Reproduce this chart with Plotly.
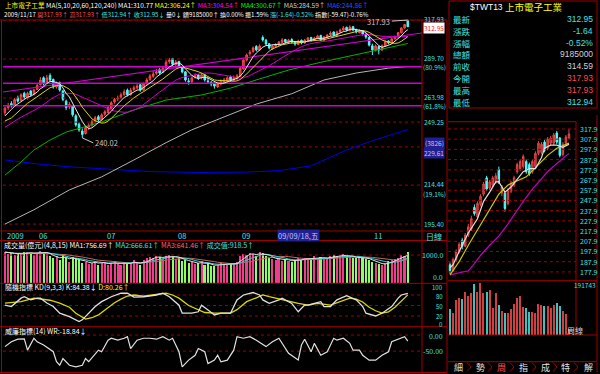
import math
import pandas as pd
import plotly.graph_objects as go

W, H = 600, 374


def fx(x):
    return x / W


def fy(y):
    return 1 - y / H


# ---------------- daily data (index 0 = mid May 2009 ... 125 = 2009/11/17) ----------------
D_OPEN = [255.0, 258.0, 260.5, 259.5, 264.0, 262.5, 267.0, 264.0, 268.5, 266.5,
          269.5, 272.5, 277.0, 273.5, 278.5, 276.0, 271.0, 274.0, 268.5, 262.0,
          258.5, 259.0, 253.0, 248.0, 244.0, 242.5, 246.5, 247.5, 250.0, 252.5,
          250.5, 254.0, 255.0, 257.5, 261.5, 263.5, 264.5, 266.0, 269.0, 266.0,
          269.5, 270.5, 272.5, 269.0, 273.5, 276.0, 278.0, 280.0, 282.5, 280.5,
          283.5, 288.0, 290.0, 286.0, 288.0, 284.5, 281.0, 275.0, 274.5, 277.5,
          279.0, 277.0, 279.0, 275.0, 274.0, 273.5, 271.0, 273.0, 274.0, 275.0,
          277.5, 275.5, 276.5, 278.0, 283.0, 289.0, 293.5, 295.0, 298.5, 296.0,
          305.0, 303.0, 300.5, 297.0, 298.5, 299.5, 301.5, 303.5, 301.5, 303.5,
          302.0, 300.0, 303.0, 301.0, 303.0, 305.0, 303.0, 304.5, 306.5, 303.0,
          305.0, 307.0, 309.0, 306.5, 309.0, 310.5, 312.5, 310.0, 313.0, 310.5,
          308.5, 310.0, 307.5, 305.0, 299.0, 296.0, 298.5, 296.0, 299.0, 302.5,
          301.0, 304.0, 305.5, 308.5, 312.0, 317.93]
D_HIGH = [258.5, 261.0, 262.0, 264.0, 265.5, 267.0, 268.0, 268.0, 269.0, 270.0,
          273.0, 277.5, 278.0, 279.0, 280.0, 276.5, 274.5, 274.5, 269.0, 263.0,
          261.5, 259.5, 254.0, 249.0, 245.5, 247.0, 248.5, 250.5, 253.0, 253.5,
          254.5, 256.5, 259.0, 262.0, 264.0, 265.5, 267.5, 269.5, 270.0, 270.5,
          272.0, 273.5, 273.0, 274.0, 277.0, 279.5, 281.5, 283.0, 283.5, 285.0,
          289.0, 290.5, 290.5, 289.0, 288.5, 285.0, 281.5, 277.0, 278.0, 280.0,
          279.5, 280.5, 279.5, 277.5, 275.0, 274.0, 274.5, 276.0, 277.0, 278.0,
          278.5, 278.5, 279.5, 284.5, 290.0, 293.5, 296.0, 298.5, 299.5, 300.0,
          306.5, 304.0, 301.0, 300.0, 301.0, 302.5, 304.5, 304.0, 304.0, 304.5,
          302.5, 303.5, 303.5, 304.0, 305.5, 305.5, 305.5, 307.0, 307.0, 306.0,
          307.5, 309.5, 309.5, 310.0, 311.5, 313.5, 313.0, 314.0, 313.5, 311.5,
          311.0, 310.5, 308.0, 305.5, 300.5, 300.0, 299.0, 300.0, 303.0, 303.0,
          305.0, 306.5, 309.0, 312.5, 315.0, 317.93]
D_LOW = [253.5, 256.5, 258.0, 259.0, 261.0, 262.0, 263.5, 263.0, 265.0, 265.5,
         269.0, 272.0, 272.0, 273.0, 274.5, 270.0, 270.0, 268.0, 262.0, 256.5,
         257.0, 252.5, 246.5, 243.5, 240.02, 242.0, 244.5, 246.5, 249.0, 249.5,
         250.0, 253.0, 254.5, 257.0, 260.5, 262.0, 263.5, 265.5, 265.0, 265.5,
         268.5, 269.5, 268.0, 268.5, 272.5, 275.0, 277.0, 279.0, 279.0, 280.0,
         283.0, 286.5, 285.0, 285.0, 284.0, 280.0, 274.5, 272.5, 273.5, 276.5,
         275.5, 276.0, 274.5, 273.0, 271.5, 270.0, 270.5, 272.0, 273.0, 274.0,
         274.5, 275.0, 275.5, 277.5, 282.5, 288.0, 292.0, 294.0, 295.0, 295.5,
         302.0, 299.5, 296.5, 296.0, 297.5, 299.0, 300.5, 300.5, 300.5, 300.5,
         299.0, 299.5, 300.0, 300.5, 302.5, 302.0, 302.5, 304.0, 302.5, 302.5,
         304.5, 306.0, 306.0, 306.0, 308.5, 310.0, 309.5, 309.5, 309.5, 308.0,
         308.0, 306.5, 304.0, 298.5, 292.5, 295.0, 293.0, 295.5, 298.5, 300.0,
         300.5, 303.5, 305.0, 308.0, 311.5, 312.94]
D_CLOSE = [257.7, 259.0, 259.7, 263.0, 262.0, 266.0, 264.5, 267.0, 266.0, 269.0,
           272.0, 275.6, 273.0, 277.0, 275.6, 271.5, 273.0, 269.0, 263.0, 258.0,
           260.0, 253.6, 247.6, 244.7, 242.0, 246.0, 247.0, 249.4, 251.8, 250.6,
           253.6, 255.4, 258.0, 261.0, 263.0, 264.0, 266.0, 268.0, 266.0, 269.0,
           270.5, 271.6, 269.0, 273.0, 275.6, 278.3, 279.6, 280.9, 280.2, 283.5,
           287.6, 289.0, 286.2, 287.6, 284.9, 280.9, 275.6, 274.5, 277.0, 278.3,
           277.0, 278.9, 275.6, 274.5, 273.0, 271.6, 273.0, 274.5, 275.6, 277.0,
           275.6, 277.0, 278.3, 283.5, 289.0, 292.5, 294.4, 297.5, 296.1, 298.9,
           303.2, 300.3, 297.5, 298.9, 299.6, 301.8, 303.2, 301.8, 303.2, 301.8,
           300.3, 302.5, 301.0, 303.2, 304.6, 303.2, 304.6, 306.1, 303.2, 305.3,
           306.8, 308.3, 306.8, 309.0, 310.5, 312.0, 310.5, 312.7, 310.5, 309.0,
           309.8, 307.6, 305.3, 299.6, 296.1, 298.9, 296.0, 299.0, 302.0, 301.0,
           304.0, 305.5, 308.5, 312.0, 314.59, 312.95]
# closes before the visible window (only feed the moving averages)
PRE_CLOSE = [232, 236, 240, 238, 243, 246, 244, 248, 250, 247,
             251, 249, 246, 243, 245, 248, 251, 253, 255]
D_VOL = [1100, 1050, 1080, 1000, 1030, 1060, 1090, 1120, 1050, 1010, 1080, 1150,
         1100, 1020, 950, 880, 960, 820,
         1000, 890, 760, 930, 880, 820, 700, 760, 690, 720, 800, 650, 730,
         740, 660, 710, 780, 700, 640, 760, 690, 720, 810, 700, 640,
         820, 880, 940, 900, 960, 920, 870, 980, 1000, 940, 850, 900,
         780, 830, 700, 740, 680, 720, 780, 650, 700, 620, 600, 660, 700, 690, 640, 720, 680, 750,
         980, 1050, 1000, 1080, 1020, 960, 1100, 1060, 950, 890,
         870, 820, 900, 780, 850, 800, 760, 820, 880, 830,
         900, 860, 820, 950, 880, 930, 860, 900, 950,
         1000, 960, 920, 1050, 980, 930, 880, 900, 960, 880, 850,
         820, 760, 700, 680, 650, 700, 780,
         820, 860, 900, 1000, 960, 1100]

MONTH_IDX = [0, 10, 31, 53, 73, 114]
MONTH_TXT = ["2009", "06", "07", "08", "09", "11"]

MA60_IDX = [0, 5, 9, 14, 19, 24, 30, 40, 45, 50, 61, 70, 79, 88, 98, 110, 118, 125]
MA60_VAL = [219.6, 226.6, 233.2, 238.8, 243.4, 245.9, 249.3, 256.5, 259.6, 262.7,
            265.9, 270.3, 276.3, 282.2, 287.5, 293.5, 297.5, 300.67]
MA120_IDX = [0, 9, 20, 30, 40, 50, 58, 68, 78, 89, 99, 109, 119, 125]
MA120_VAL = [195.4, 202.2, 212.0, 218.7, 227.7, 237.3, 244.7, 252.2, 260.2, 266.7,
             275.6, 280.2, 283.5, 284.59]
MA240_IDX = [0, 10, 20, 33, 45, 60, 75, 85, 95, 106, 115, 125]
MA240_VAL = [227.7, 225.6, 224.0, 222.5, 221.5, 221.0, 221.2, 222.0, 224.5, 233.2,
             239.0, 244.86]

FIB_LEVELS = [284.5, 273.5, 259.2]
TREND_IDX = [-0.6, 129.4]
TREND_VAL = [267.8, 308.3]
GRID_LEVELS = [317.93, 289.70, 263.98, 249.25, 234.9, 214.44, 195.40]

K_IDX = [0, 2, 5, 6, 8, 10, 11, 13, 15, 17, 20, 23, 24, 26, 28, 30, 33, 36, 38, 40,
         43, 47, 49, 51, 54, 55, 58, 60, 61, 63, 65, 67, 70, 72, 74, 77, 79, 80, 82, 85,
         86, 89, 91, 93, 94, 96, 98, 99, 101, 103, 105, 106, 109, 111, 112, 115, 117, 120,
         122, 123, 125]
K_VAL = [51, 47, 71, 75, 66, 71, 71, 57, 47, 28, 18, 4, 9, 28, 47, 61, 75, 85, 85, 74,
         75, 80, 85, 75, 51, 28, 28, 32, 51, 37, 23, 28, 28, 66, 80, 87, 80, 66, 56, 66,
         71, 56, 32, 51, 51, 56, 61, 47, 47, 66, 75, 78, 66, 47, 28, 20, 28, 47,
         71, 80, 84.38]
D_IDX = [0, 5, 9, 14, 17, 20, 22, 24, 25, 27, 29, 30, 32, 34, 36, 38, 40, 43, 47, 50,
         52, 54, 57, 60, 62, 65, 70, 72, 75, 78, 80, 82, 85, 88, 91, 94, 97, 101, 104, 107,
         109, 111, 113, 115, 117, 119, 121, 123, 125]
D_VAL = [57, 61, 71, 65, 57, 45, 28, 15, 11, 15, 23, 30, 43, 58, 68, 77, 80, 77, 82, 85,
         80, 71, 50, 37, 30, 28, 28, 38, 61, 72, 80, 75, 68, 61, 56, 51, 56, 51, 60, 71,
         68, 60, 45, 35, 28, 32, 45, 62, 80.26]
WR_IDX = [0, 2, 4, 6, 7, 9, 10, 12, 15, 16, 17, 18, 20, 22, 24, 25, 26, 28, 29, 30,
          32, 33, 35, 37, 38, 39, 41, 43, 45, 47, 49, 51, 52, 54, 55, 57, 59, 60, 62, 63,
          65, 66, 67, 69, 71, 72, 74, 76, 78, 81, 83, 85, 88, 91, 92, 93, 95, 96, 98, 100,
          102, 103, 105, 107, 108, 110, 111, 113, 115, 117, 119, 120, 123, 124, 125]
WR_VAL = [-36, -21, -13, -12, -47, -10, -21, -31, -52, -83, -94, -73, -94, -99, -94, -73, -83, -57, -47, -52,
          -16, -10, -16, -10, -5, -42, -16, -10, -10, -13, -5, -16, -10, -52, -99, -78, -63, -42, -52, -89,
          -78, -63, -83, -78, -47, -5, -10, -5, -16, -36, -21, -10, -57, -78, -31, -13, -52, -26, -63, -52,
          -10, -16, -10, -26, -47, -47, -63, -78, -78, -63, -52, -21, -10, -5, -18.84]

# ---------------- weekly data (40 weeks to 2009/11/17) ----------------
W_OPEN = [185, 179, 190, 198, 209, 203, 214, 220, 241, 232, 244, 254, 270, 260, 263, 266, 278, 255, 255, 245,
          257, 263, 276, 279, 281, 286, 283, 276, 281, 294, 295, 305, 299, 304, 304, 314, 309, 293, 304, 309]
W_HIGH = [187, 192, 200, 207, 211, 216, 225, 233, 244, 247, 254, 266, 272, 268, 272, 275, 281, 263, 257, 260,
          267, 272, 285, 288, 293, 288, 285, 288, 296, 306, 305, 307, 310, 311, 314, 316, 310, 305, 312, 317.93]
W_LOW = [176, 178, 188, 196, 200, 202, 212, 218, 233, 230, 242, 252, 257, 258, 261, 264, 264, 252, 237, 243,
         255, 261, 274, 277, 279, 274, 272, 274, 279, 292, 293, 295, 297, 302, 302, 303, 290, 291, 302, 308]
W_CLOSE = [179, 190, 198, 205, 203, 214, 222, 230, 235, 245, 252, 264, 259, 266, 270, 272, 266, 261, 240, 258,
           265, 270, 283, 286, 291, 276, 274, 286, 294, 304, 303, 297, 308, 309, 312, 305, 292, 303, 310, 312.95]
W_VOL = [92500, 78000, 126000, 132000, 128400, 155800, 140300, 152200, 182400, 153600,
         188100, 150000, 155800, 161900, 96000, 152200, 108000, 86300, 80200, 80200,
         93500, 111500, 132000, 141400, 101800, 98200, 83800, 83800, 80200, 111500,
         108000, 104300, 104300, 96000, 108000, 116200, 104300, 86300, 75500, 20500]
W_MA1_IDX = [0, 1, 3, 6, 9, 11, 13, 15, 16, 18, 20, 22, 24, 26, 28, 30, 31, 33, 35, 37, 39]
W_MA1_VAL = [182, 185, 198, 216, 230, 247, 256, 266, 266, 256, 261, 268, 276, 279, 279, 290, 299, 302, 302, 300, 303]
W_MA2_IDX = [0, 3, 6, 10, 13, 16, 19, 22, 25, 28, 32, 35, 39]
W_MA2_VAL = [175, 188, 204, 224, 240, 254, 263, 267, 271, 280, 292, 299, 304]
W_MA3_IDX = [0, 3, 6, 8, 10, 13, 16, 19, 21, 24, 27, 30, 32, 35, 38, 39]
W_MA3_VAL = [175, 177, 179, 186, 194, 204, 213, 225, 234, 247, 259, 269, 276, 284, 292, 294]
W_LEVELS = [317.9, 307.9, 297.9, 287.9, 277.9, 267.9, 257.9, 247.9, 237.9, 227.9, 217.9, 207.9, 197.9, 187.9, 177.9]

# ---------------- derived series ----------------
n = len(D_CLOSE)
idx = list(range(n))
cl = pd.Series(PRE_CLOSE + D_CLOSE)
p0 = len(PRE_CLOSE)
MA5 = cl.rolling(5).mean().iloc[p0:].tolist()
MA10 = cl.rolling(10).mean().iloc[p0:].tolist()
MA20 = cl.rolling(20, min_periods=1).mean().iloc[p0:].tolist()
vs = pd.Series(D_VOL)
VMA4 = vs.rolling(4, min_periods=1).mean().tolist()
VMA8 = vs.rolling(8, min_periods=1).mean().tolist()
VMA15 = vs.rolling(15, min_periods=1).mean().tolist()
vcol = ['#f03c8c' if c >= o else '#8cff64' for o, c in zip(D_OPEN, D_CLOSE)]
widx = list(range(len(W_CLOSE)))
wcol = ['#d04040' if c >= o else '#40c0c0' for o, c in zip(W_OPEN, W_CLOSE)]

RED = '#ff4a4a'
CYAN = '#40e0e0'
BORDER = '#a00000'
NARROW = 'Liberation Sans Narrow, Noto Sans CJK TC, sans-serif'
CJK = 'Noto Sans CJK TC, sans-serif'
SANS = 'Liberation Sans, Noto Sans CJK TC, sans-serif'

fig = go.Figure()


def line(x, y, color, xa, ya, width=1, dash=None):
    fig.add_trace(go.Scatter(x=x, y=y, mode='lines', xaxis=xa, yaxis=ya,
                             line=dict(color=color, width=width, dash=dash),
                             hoverinfo='skip', showlegend=False))


XR = [-0.6, 129.4]
# main chart grid + drawings
for lv in GRID_LEVELS:
    line(XR, [lv, lv], BORDER, 'x', 'y', 1, 'dot')
line(MA240_IDX, MA240_VAL, '#0000e6', 'x', 'y')
line(MA120_IDX, MA120_VAL, '#b4b4b4', 'x', 'y')
line(MA60_IDX, MA60_VAL, '#00b400', 'x', 'y')
for lv in FIB_LEVELS:
    line(XR, [lv, lv], '#d000d0', 'x', 'y', 1.5)
line(TREND_IDX, TREND_VAL, '#d000d0', 'x', 'y', 1.2)
line(idx, MA20, '#d000d0', 'x', 'y')
line(idx, MA10, '#d8d800', 'x', 'y')
line(idx, MA5, '#e8e8e8', 'x', 'y')
fig.add_trace(go.Candlestick(
    x=idx, open=D_OPEN, high=D_HIGH, low=D_LOW, close=D_CLOSE, xaxis='x', yaxis='y',
    increasing=dict(line=dict(color=RED, width=1), fillcolor='#b42828'),
    decreasing=dict(line=dict(color='#50f8f8', width=1), fillcolor='#50f8f8'),
    whiskerwidth=0, showlegend=False, hoverinfo='skip'))

# volume
line(XR, [1000, 1000], BORDER, 'x2', 'y2', 1, 'dot')
fig.add_trace(go.Bar(x=idx, y=D_VOL, marker=dict(color=vcol, line=dict(width=0)), width=0.62,
                     xaxis='x2', yaxis='y2', showlegend=False, hoverinfo='skip'))
line(idx, VMA15, '#c86464', 'x2', 'y2')
line(idx, VMA8, '#30d0d0', 'x2', 'y2')
line(idx, VMA4, '#e0e0e0', 'x2', 'y2')

# KD
for lv in [80, 50, 20]:
    line(XR, [lv, lv], BORDER, 'x3', 'y3', 1, 'dot')
line(D_IDX, D_VAL, '#d8d800', 'x3', 'y3', 1.3)
line(K_IDX, K_VAL, '#e0e0e0', 'x3', 'y3', 1.3)

# WR
for lv in [0, -50]:
    line(XR, [lv, lv], BORDER, 'x4', 'y4', 1, 'dot')
line(WR_IDX, WR_VAL, '#e0e0e0', 'x4', 'y4', 1.2)

# weekly
WXR = [-0.66, 41.3]
for lv in W_LEVELS:
    line(WXR, [lv, lv], BORDER, 'x5', 'y5', 1, 'dot')
line(W_MA3_IDX, W_MA3_VAL, '#c000c0', 'x5', 'y5', 1.2)
line(W_MA2_IDX, W_MA2_VAL, '#c8c800', 'x5', 'y5', 1.2)
line(W_MA1_IDX, W_MA1_VAL, '#e0e0e0', 'x5', 'y5', 1.2)
fig.add_trace(go.Candlestick(
    x=widx, open=W_OPEN, high=W_HIGH, low=W_LOW, close=W_CLOSE, xaxis='x5', yaxis='y5',
    increasing=dict(line=dict(color='#e04848', width=1), fillcolor='#a82828'),
    decreasing=dict(line=dict(color='#50f8f8', width=1), fillcolor='#50f8f8'),
    whiskerwidth=0, showlegend=False, hoverinfo='skip'))
fig.add_trace(go.Bar(x=widx, y=W_VOL, marker=dict(color=wcol, line=dict(width=0)), width=0.4,
                     xaxis='x6', yaxis='y6', showlegend=False, hoverinfo='skip'))


def xax(domain, rng, anchor):
    return dict(domain=domain, range=rng, anchor=anchor, type='linear', visible=False,
                showgrid=False, zeroline=False, fixedrange=True, rangeslider=dict(visible=False))


def yax(domain, rng, anchor, typ='linear'):
    return dict(domain=domain, range=rng, anchor=anchor, type=typ, visible=False,
                showgrid=False, zeroline=False, fixedrange=True)


MAINX = [fx(3), fx(422)]
WX = [fx(448), fx(576)]
fig.update_layout(
    width=W, height=H, margin=dict(l=0, r=0, t=0, b=0),
    paper_bgcolor='black', plot_bgcolor='black', showlegend=False, bargap=0,
    xaxis=xax(MAINX, XR, 'y'),
    yaxis=yax([fy(231), fy(20)], [math.log10(192.2), math.log10(318.0)], 'x', 'log'),
    xaxis2=xax(MAINX, XR, 'y2'),
    yaxis2=yax([fy(283.3), fy(249)], [0, 1212], 'x2'),
    xaxis3=xax(MAINX, XR, 'y3'),
    yaxis3=yax([fy(326), fy(284)], [-8.6, 111.4], 'x3'),
    xaxis4=xax(MAINX, XR, 'y4'),
    yaxis4=yax([fy(372), fy(327)], [-115, 25], 'x4'),
    xaxis5=xax(WX, WXR, 'y5'),
    yaxis5=yax([fy(280.7), fy(121.7)], [169.3, 325], 'x5'),
    xaxis6=xax(WX, WXR, 'y6'),
    yaxis6=yax([fy(335), fy(281)], [0, 194300], 'x6'),
)

shapes = []


def seg(x0, y0, x1, y1, color=BORDER, width=1):
    shapes.append(dict(type='line', xref='paper', yref='paper', x0=fx(x0), y0=fy(y0),
                       x1=fx(x1), y1=fy(y1), line=dict(color=color, width=width)))


# left borders
seg(0, 20, 447, 20)
seg(1.5, 20, 1.5, 372)
seg(422, 20, 422, 372)
seg(447, 20, 447, 372)
seg(0, 231, 447, 231)
seg(0, 240.5, 447, 240.5)
seg(0, 283.3, 447, 283.3)
seg(0, 326.7, 447, 326.7)
seg(0, 372.5, 447, 372.5)
# right panel borders
shapes.append(dict(type='rect', xref='paper', yref='paper', x0=fx(449), y0=fy(108), x1=fx(597), y1=fy(1),
                   line=dict(color=BORDER, width=1)))
seg(448, 121.7, 576, 121.7)
seg(576, 121.7, 576, 335)
seg(448, 280.7, 597, 280.7)
seg(448, 335, 597, 335)
seg(597, 115, 597, 372)
seg(448, 361.7, 597, 361.7)
# tab separators (small chevrons)
for xx in [469, 490, 512, 534, 555, 576]:
    shapes.append(dict(type='path', xref='paper', yref='paper',
                       path=f'M {fx(xx - 2)},{fy(362.5)} L {fx(xx + 2)},{fy(367)} L {fx(xx - 2)},{fy(371.5)}',
                       line=dict(color='#a00000', width=1)))
fig.update_layout(shapes=shapes)

ann = []


def txt(x, y, s, color, size=7, anchor='left', family=NARROW, bg=None):
    d = dict(x=fx(x), y=fy(y), xref='paper', yref='paper', text=s, showarrow=False,
             xanchor=anchor, yanchor='middle', font=dict(color=color, size=size, family=family))
    if bg:
        d['bgcolor'] = bg
        d['borderpad'] = 0
    ann.append(d)


def rich(parts):
    return ' '.join(f'<span style="color:{c}">{s}</span>' for s, c in parts)


# header rows (one flowing text per row)
txt(3, 5, rich([('上市電子工業', '#ffff00'), ('MA(5,10,20,60,120,240)', '#ffffff'),
                ('MA1:310.77', '#ffffff'), ('MA2:306.24↑', '#ffff00'), ('MA3:304.54↑', '#ff00ff'),
                ('MA4:300.67↑', '#00ff00'), ('MA5:284.59↑', '#d0d0d0'), ('MA6:244.86↑', '#3050ff')]),
    '#ffffff', 6.6)
txt(2, 14.5, rich([('2009/11/17', '#ffffff'), ('開317.93↑', RED), ('高317.93↑', RED),
                   ('低312.94↑', CYAN), ('收312.95↓', CYAN), ('量0↓', '#ffffff'),
                   ('額9185000↑', '#ffffff'), ('換0.00%', '#ffffff'), ('振1.59%', '#ffffff'),
                   ('漲(-1.64)-0.52%', CYAN), ('指數(-59.47)-0.76%', '#ffffff')]), '#ffffff', 6.1)

# main right labels
for yy, s in [(19.5, '317.93'), (58, '289.70'), (67, '(80.9%)'), (96.5, '263.98'), (106, '(61.8%)'),
              (122, '249.25'), (184, '214.44'), (194, '(19.1%)'), (224, '195.40')]:
    txt(434, yy, s, CYAN, 6.5, 'center')
txt(434, 28, '312.95', '#ff2020', 6.5, 'center', bg='#ffffff')
txt(434, 142.5, '(3826)', '#c0c0ff', 6.5, 'center', bg='#202090')
txt(434, 152.5, '229.61', '#c0c0ff', 6.5, 'center', bg='#202090')
txt(434, 236, '日線', CYAN, 8, 'center', CJK)

# x labels
for i_, s in zip(MONTH_IDX, MONTH_TXT):
    ann.append(dict(x=i_, y=fy(235.7), xref='x', yref='paper', text=s, showarrow=False,
                    xanchor='left', yanchor='middle', font=dict(color=CYAN, size=7.5, family=NARROW)))
txt(277, 235.7, '09/09/18,五', '#c0c0ff', 7.5, 'left', bg='#202090')

# low / high markers
ann.append(dict(x=24, y=math.log10(240.02), xref='x', yref='y', text='240.02', showarrow=True,
                arrowhead=0, arrowwidth=1, arrowcolor='#c8c8c8', ax=11, ay=5, xanchor='left',
                font=dict(color='#c8c8c8', size=7.5, family=NARROW)))
ann.append(dict(x=125, y=math.log10(317.93), xref='x', yref='y', text='317.93', showarrow=True,
                arrowhead=0, arrowwidth=1, arrowcolor='#c8c8c8', ax=-16, ay=1, xanchor='right',
                font=dict(color='#c8c8c8', size=7.5, family=NARROW)))

# volume header + labels
txt(2, 245, rich([('成交量(億元)(4,8,15)', '#ffffff'), ('MA1:756.69↑', '#ffffff'),
                  ('MA2:666.61↑', CYAN), ('MA3:641.46↑', '#ff6080'), ('成交值:918.5↑', CYAN)]), '#ffffff')
txt(445, 255, '1000.0', CYAN, 7, 'right')
txt(445, 277, '0.0', CYAN, 7, 'right')
# KD
txt(3, 286.5, rich([('隨機指標 KD(9,3,3) K:84.38↓', '#ffffff'), ('D:80.26↑', '#ffff00')]), '#ffffff')
for yy, s in [(287.8, '100'), (296, '80'), (306.5, '50'), (316.3, '20'), (324.3, '0')]:
    txt(445, yy, s, CYAN, 6, 'right')
# WR
txt(3, 330.5, '威廉指標(14) WR:-18.84↓', '#ffffff')
txt(445, 335.5, '0.00', CYAN, 7, 'right')
txt(445, 351, '-50.00', CYAN, 7, 'right')

# right info panel
txt(468, 7, '$TWT13', '#ffffff', 8.5, 'left', SANS)
txt(503, 7, '上市電子工業', '#ffff00', 9.5, 'left', CJK)
rows = [('最新', '312.95', CYAN), ('漲跌', '-1.64', CYAN), ('漲幅', '-0.52%', CYAN),
        ('總額', '9185000', '#d0d0d0'), ('前收', '314.59', '#d0d0d0'), ('今開', '317.93', RED),
        ('最高', '317.93', RED), ('最低', '312.94', CYAN)]
ys = [19, 30.8, 42.6, 54.4, 66.2, 78, 89.8, 101.6]
for (lab, val, col), yy in zip(rows, ys):
    txt(451, yy, lab, CYAN, 8.5, 'left', CJK)
    txt(595, yy, val, col, 8.5, 'right', SANS)
# weekly labels
for lv in W_LEVELS:
    ann.append(dict(x=fx(578), y=lv, xref='paper', yref='y5', text=f'{lv:.1f}', showarrow=False,
                    xanchor='left', yanchor='middle', font=dict(color=CYAN, size=7, family=NARROW)))
txt(598, 285, '191743', CYAN, 6.5, 'right')
txt(575, 330, '周線', '#d0d0d0', 8, 'center', CJK)
# bottom tabs
for xx, s, c in [(458, '細', '#e0e0e0'), (480, '勢', '#e0e0e0'), (501, '周', RED), (523, '指', '#e0e0e0'),
                 (545, '成', '#e0e0e0'), (565, '特', '#e0e0e0'), (588, '解', '#e0e0e0')]:
    txt(xx, 367, s, c, 9, 'center', CJK)
fig.update_layout(annotations=ann)

fig.write_html('out.html')
